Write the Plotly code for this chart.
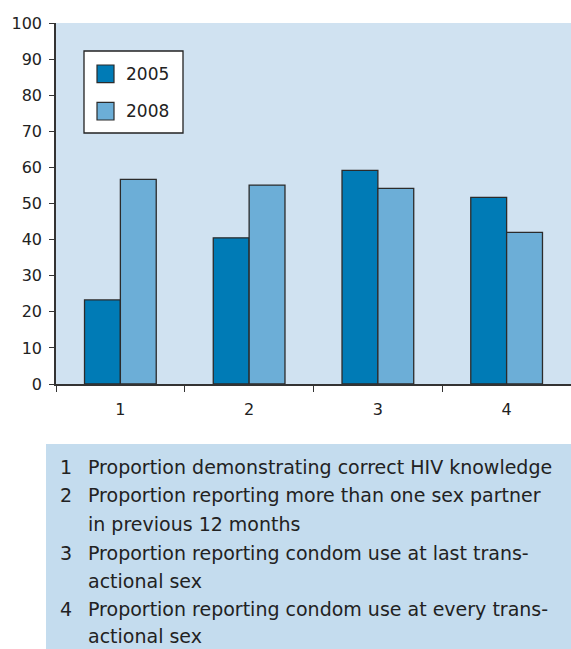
import plotly.graph_objects as go

categories = ["1", "2", "3", "4"]
series_names = ["2005", "2008"]
values_2005 = [23.3, 40.5, 59.2, 51.7]
values_2008 = [56.7, 55.1, 54.2, 42.0]
y_ticks = [0, 10, 20, 30, 40, 50, 60, 70, 80, 90, 100]
caption_lines = [
    ("1", "Proportion demonstrating correct HIV knowledge"),
    ("2", "Proportion reporting more than one sex partner"),
    ("", "in previous 12 months"),
    ("3", "Proportion reporting condom use at last trans-"),
    ("", "actional sex"),
    ("4", "Proportion reporting condom use at every trans-"),
    ("", "actional sex"),
]

W, H = 571, 649
ML, MR, MT, MB = 56, 0, 23, 265
PW, PH = W - ML - MR, H - MT - MB


def px(x):
    return (x - ML) / PW


def py(y):
    return (H - MB - y) / PH


FONT = "DejaVu Sans"
C05, C08 = "#007bb6", "#6caed7"

fig = go.Figure()
fig.add_trace(go.Bar(x=categories, y=values_2005, name=series_names[0],
                     marker=dict(color=C05, line=dict(color="#2b2b2b", width=1.3))))
fig.add_trace(go.Bar(x=categories, y=values_2008, name=series_names[1],
                     marker=dict(color=C08, line=dict(color="#2b2b2b", width=1.3))))

shapes = []
annotations = []

# legend box
shapes.append(dict(type="rect", xref="paper", yref="paper", x0=px(84), x1=px(183),
                   y0=py(133), y1=py(51), fillcolor="white",
                   line=dict(color="#222", width=1.3), layer="above"))
for i, (name, col) in enumerate(zip(series_names, [C05, C08])):
    top = 65 + i * 37.3
    shapes.append(dict(type="rect", xref="paper", yref="paper", x0=px(97), x1=px(114),
                       y0=py(top + 17.7), y1=py(top), fillcolor=col,
                       line=dict(color="#2b2b2b", width=1.2), layer="above"))
    annotations.append(dict(xref="paper", yref="paper", x=px(124), y=py(top + 9),
                            text=name, showarrow=False, xanchor="left", yanchor="middle",
                            font=dict(family=FONT, size=17, color="#222")))

# caption box
shapes.append(dict(type="rect", xref="paper", yref="paper", x0=px(46), x1=px(571),
                   y0=py(649), y1=py(444), fillcolor="#c4dcee", line=dict(width=0),
                   layer="below"))
line_ys = [466.5, 495, 524, 552.5, 580.5, 608.5, 636]
for (num, txt), yy in zip(caption_lines, line_ys):
    if num:
        annotations.append(dict(xref="paper", yref="paper", x=px(58), y=py(yy),
                                text=num, showarrow=False, xanchor="left", yanchor="middle",
                                font=dict(family=FONT, size=19, color="#222")))
    annotations.append(dict(xref="paper", yref="paper", x=px(86), y=py(yy),
                            text=txt, showarrow=False, xanchor="left", yanchor="middle",
                            font=dict(family=FONT, size=19, color="#222")))

fig.update_layout(
    width=W, height=H,
    margin=dict(l=ML, r=MR, t=MT, b=MB, pad=0),
    paper_bgcolor="white",
    plot_bgcolor="#d0e2f1",
    barmode="group",
    bargap=0.443,
    bargroupgap=0,
    showlegend=False,
    shapes=shapes,
    annotations=annotations,
    font=dict(family=FONT, size=16, color="#222"),
    xaxis=dict(type="category", tickson="boundaries", ticks="outside", ticklen=6,
               tickcolor="#333", tickwidth=1.3, showline=True, linecolor="#333",
               linewidth=1.5, showgrid=False, zeroline=False,
               tickfont=dict(family=FONT, size=16, color="#222"), ticklabelstandoff=10),
    yaxis=dict(range=[0, 100], tickvals=y_ticks, ticks="outside", ticklen=5,
               tickcolor="#333", tickwidth=1.3, showline=True, linecolor="#333",
               linewidth=1.5, showgrid=False, zeroline=False,
               tickfont=dict(family=FONT, size=16, color="#222"), ticklabelstandoff=4),
)

fig.write_html("out.html", config={"displayModeBar": False},
               post_script="document.body.style.margin='0';")
